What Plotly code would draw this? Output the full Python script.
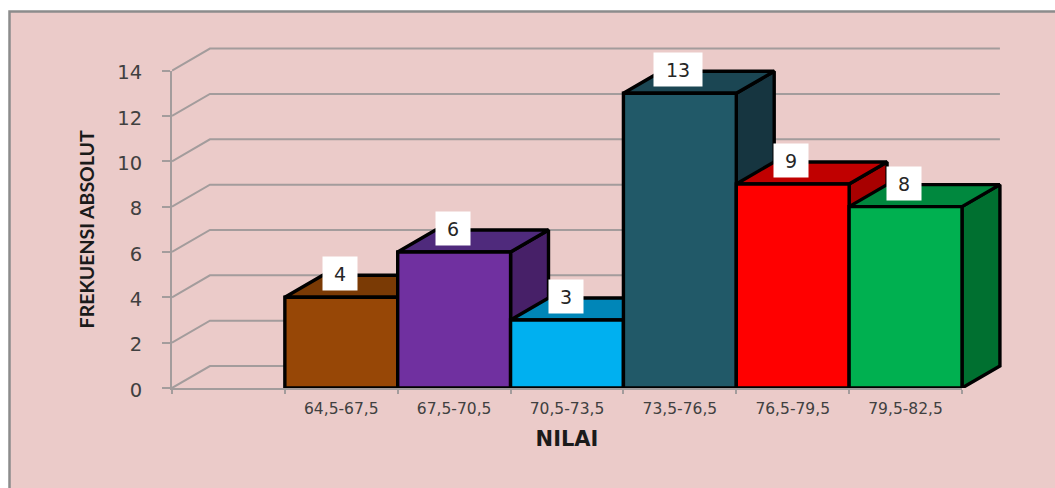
import plotly.graph_objects as go

# Frequency table: the first axis slot stays empty, bars start in the second one.
categories = ["", "64,5-67,5", "67,5-70,5", "70,5-73,5", "73,5-76,5", "76,5-79,5", "79,5-82,5"]
frequencies = [None, 4, 6, 3, 13, 9, 8]
y_ticks = [0, 2, 4, 6, 8, 10, 12, 14]

front_colors = [None, "#974706", "#7030A0", "#00B0F0", "#215968", "#FF0000", "#00B050"]
top_colors = [None, "#7A3A05", "#4F2A7C", "#0086B8", "#1B4653", "#C00000", "#00883E"]
side_colors = [None, "#5E2C04", "#472068", "#006F9A", "#163540", "#A80000", "#007030"]

# Oblique projection offset of the depth axis, in data units.
DEPTH_X = 0.336
DEPTH_Y = 0.97
GRID_COLOR = "#A39C9C"
TEXT_COLOR = "#404040"
PANEL_COLOR = "#EBCBC9"

# Figure and drawing-area geometry in pixels.
FIG_W, FIG_H = 1055, 488
ML, MR, MT, MB = 172, 45, 30, 100
PLOT_W = FIG_W - ML - MR
PLOT_H = FIG_H - MT - MB
AXIS_W = 790      # length of the category axis
AXIS_H = 317.4    # length of the value axis

SLOTS = len(categories)
Y_TOP = y_ticks[-1]

fig = go.Figure()


def polygon(xs, ys, fill):
    fig.add_trace(go.Scatter(
        x=xs, y=ys, xaxis="x2", yaxis="y2", mode="lines", fill="toself", fillcolor=fill,
        line=dict(color="#000000", width=3.4),
        hoverinfo="skip", showlegend=False,
    ))


# Keeps the labelled axes pair alive; all marks live on the wider overlay pair.
fig.add_trace(go.Scatter(x=[None], y=[None], mode="lines", hoverinfo="skip", showlegend=False))

# Back wall grid: each line runs along the floor depth, then across the wall.
for tick in y_ticks:
    fig.add_trace(go.Scatter(
        x=[0, DEPTH_X, SLOTS + DEPTH_X],
        y=[tick, tick + DEPTH_Y, tick + DEPTH_Y],
        xaxis="x2", yaxis="y2",
        mode="lines", line=dict(color=GRID_COLOR, width=2),
        hoverinfo="skip", showlegend=False,
    ))

# Prisms are painted left to right so each one overlaps its neighbour's side.
for slot, value in enumerate(frequencies):
    if value is None:
        continue
    left, right = slot, slot + 1
    polygon([right, right + DEPTH_X, right + DEPTH_X, right, right],
            [0, DEPTH_Y, value + DEPTH_Y, value, 0], side_colors[slot])
    polygon([left, left + DEPTH_X, right + DEPTH_X, right, left],
            [value, value + DEPTH_Y, value + DEPTH_Y, value, value], top_colors[slot])
    polygon([left, left, right, right, left],
            [0, value, value, 0, 0], front_colors[slot])

# White value labels sitting above each prism's front edge.
annotations = []
for slot, value in enumerate(frequencies):
    if value is None:
        continue
    annotations.append(dict(
        x=slot + 0.487, y=value + 1.03, xref="x2", yref="y2",
        text=str(value), showarrow=False, bgcolor="#FFFFFF",
        width=46 if value >= 10 else 32, height=31,
        align="center", valign="middle",
        font=dict(family="DejaVu Sans", size=19, color="#262626"),
    ))

fig.update_layout(
    width=FIG_W, height=FIG_H,
    margin=dict(l=ML, r=MR, t=MT, b=MB, autoexpand=False),
    paper_bgcolor="#FFFFFF", plot_bgcolor="rgba(0,0,0,0)",
    showlegend=False, annotations=annotations,
    shapes=[dict(
        type="rect", layer="below", xref="paper", yref="paper",
        x0=(9.5 - ML) / PLOT_W, x1=(FIG_W + 20 - ML) / PLOT_W,
        y0=-(MB + 20) / PLOT_H, y1=(FIG_H - MB - 11.5) / PLOT_H,
        fillcolor=PANEL_COLOR, line=dict(color="#8C8C8C", width=2.5),
    )],
    xaxis=dict(
        domain=[0, AXIS_W / PLOT_W], range=[0, SLOTS],
        showgrid=False, zeroline=False,
        showline=True, linecolor=GRID_COLOR, linewidth=2,
        tickmode="array", tickvals=[i + 0.5 for i in range(SLOTS)],
        ticktext=categories, ticks="", ticklabelstandoff=5,
        tickfont=dict(family="DejaVu Sans", size=15.5, color=TEXT_COLOR),
        minor=dict(tickmode="array", tickvals=list(range(SLOTS + 1)),
                   ticks="outside", ticklen=4, tickcolor=GRID_COLOR, tickwidth=1.5),
        title=dict(text="<b>NILAI</b>", standoff=15,
                   font=dict(family="DejaVu Sans", size=21, color="#1A1A1A")),
    ),
    yaxis=dict(
        domain=[0, AXIS_H / PLOT_H], range=[0, Y_TOP],
        showgrid=False, zeroline=False,
        showline=True, linecolor=GRID_COLOR, linewidth=2,
        tickmode="array", tickvals=y_ticks, ticks="outside", ticklen=8,
        tickcolor=GRID_COLOR, tickwidth=1.5, ticklabelstandoff=16, ticklabelshift=2,
        tickfont=dict(family="DejaVu Sans", size=19.5, color=TEXT_COLOR),
        title=dict(text="<b>FREKUENSI ABSOLUT</b>", standoff=17,
                   font=dict(family="Lato", size=19.5, color="#1A1A1A")),
    ),
    # Overlay axes share the same scale but span the whole drawing area,
    # so the receding faces and wall lines are not clipped at the axis ends.
    xaxis2=dict(domain=[0, 1], anchor="y2", range=[0, SLOTS * PLOT_W / AXIS_W], visible=False),
    yaxis2=dict(domain=[0, 1], anchor="x2", range=[0, Y_TOP * PLOT_H / AXIS_H], visible=False),
)

fig.write_html("out.html")
